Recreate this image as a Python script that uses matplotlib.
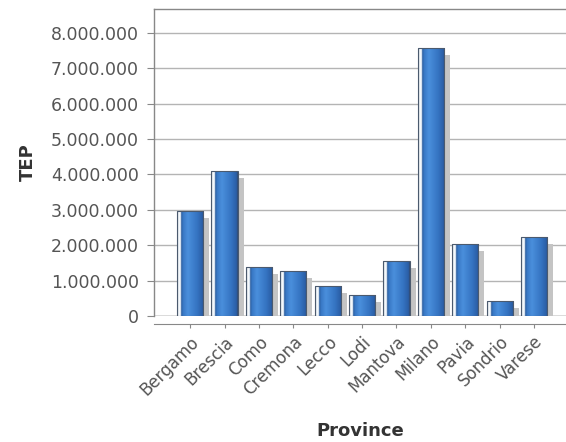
import numpy as np
import matplotlib
matplotlib.use("Agg")
import matplotlib.pyplot as plt
from matplotlib.colors import LinearSegmentedColormap
from matplotlib.transforms import ScaledTranslation
from matplotlib.ticker import FuncFormatter

provinces = ["Bergamo", "Brescia", "Como", "Cremona", "Lecco", "Lodi",
             "Mantova", "Milano", "Pavia", "Sondrio", "Varese"]
tep = [2970000, 4090000, 1370000, 1270000, 860000, 600000,
       1560000, 7580000, 2030000, 420000, 2230000]
yticks = [0, 1000000, 2000000, 3000000, 4000000, 5000000, 6000000, 7000000, 8000000]

fig = plt.figure(figsize=(5.66, 4.42), dpi=100)
ax = fig.add_axes([154/566, 1 - 316/442, (566-154)/566, (316-9)/442])

x = np.arange(len(provinces))
width = 0.76

# shadows
shadow_tr = ax.transData + ScaledTranslation(6/100, -7/100, fig.dpi_scale_trans)
ax.bar(x, tep, width=width, color="#c4c4c4", edgecolor="none",
       transform=shadow_tr, zorder=2)

# gradient bars
cmap = LinearSegmentedColormap.from_list("bar", [
    (0.00, "#6f7d8f"),
    (0.05, "#f4f8fc"),
    (0.13, "#f4f8fc"),
    (0.16, "#2a5c9c"),
    (0.22, "#3877c4"),
    (0.40, "#4a8fdc"),
    (0.75, "#3574c2"),
    (0.95, "#2a5ea6"),
    (1.00, "#33496a"),
])
grad = np.linspace(0, 1, 200).reshape(1, -1)
bars = ax.bar(x, tep, width=width, color="none", edgecolor="#4b5a6e",
              linewidth=0.8, zorder=4)
for b in bars:
    x0 = b.get_x()
    im = ax.imshow(grad, cmap=cmap, aspect="auto", interpolation="bilinear",
                   extent=(x0, x0 + b.get_width(), 0, b.get_height()), zorder=3)
    im.set_clip_path(b)

ax.set_xlim(-1.05, 10.93)
ax.set_ylim(0, 8.67e6)

ax.set_yticks(yticks)
ax.yaxis.set_major_formatter(FuncFormatter(lambda v, p: f"{int(v):,}".replace(",", ".")))
ax.set_xticks(x)
ax.set_xticklabels(provinces)

ax.grid(axis="y", color="#b4b4b4", linewidth=1.0, zorder=1)
ax.set_axisbelow(True)

for s in ["top", "left"]:
    ax.spines[s].set_color("#888888")
    ax.spines[s].set_linewidth(1.0)
ax.spines["right"].set_visible(False)
ax.spines["bottom"].set_position(("outward", 6))
ax.spines["bottom"].set_color("#888888")
ax.axhline(0, color="#888888", linewidth=1.0, zorder=1)

ax.tick_params(axis="y", colors="#888888", labelcolor="#555555", length=5,
               labelsize=12.5, pad=6)
ax.tick_params(axis="x", colors="#888888", labelcolor="#555555", length=3,
               labelsize=12, pad=3, labelrotation=45)
for lbl in ax.get_xticklabels():
    lbl.set_ha("right")
    lbl.set_va("top")
    lbl.set_rotation_mode("anchor")

ax.set_ylabel("TEP", fontsize=13, fontweight="bold", color="#333333", labelpad=10)
ax.set_xlabel("Province", fontsize=13, fontweight="bold", color="#333333", labelpad=17)

fig.savefig("out.png", dpi=100)
